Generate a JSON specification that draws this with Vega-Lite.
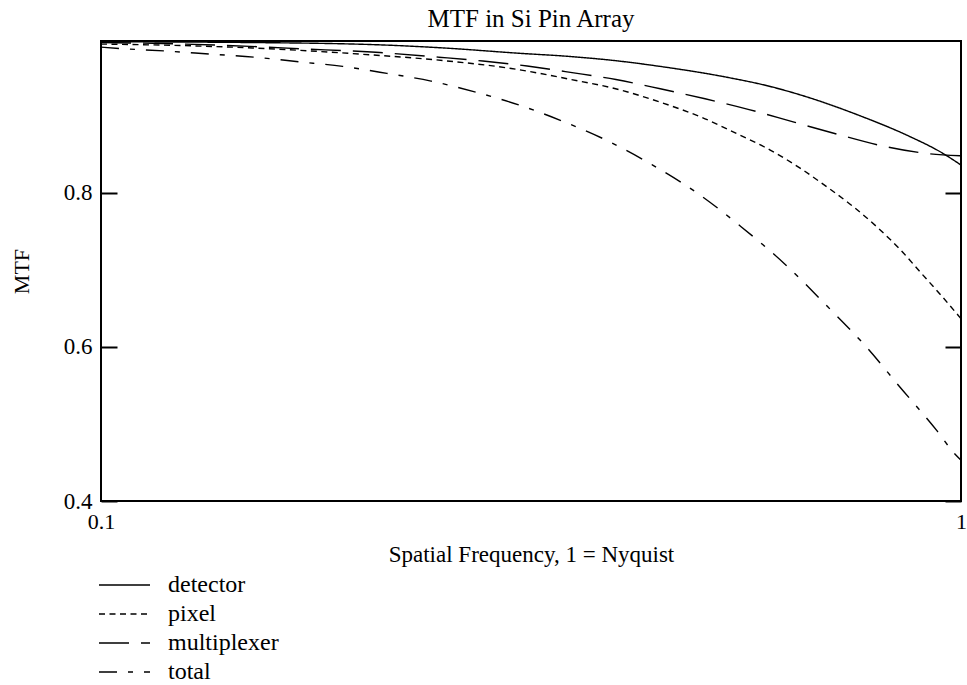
{
  "$schema": "https://vega.github.io/schema/vega-lite/v6.json",
  "width": 860,
  "height": 460,
  "autosize": "none",
  "padding": {"left": 101, "top": 41, "right": 6, "bottom": 184},
  "background": "white",
  "title": {"text": "MTF in Si Pin Array", "font": "Liberation Serif", "fontSize": 25, "fontWeight": "normal", "color": "black", "offset": 7, "anchor": "middle"},
  "config": {
    "view": {"stroke": "black", "strokeWidth": 2},
    "font": "Liberation Serif",
    "axis": {"labelFont": "Liberation Serif", "titleFont": "Liberation Serif"},
    "legend": {
      "title": null,
      "orient": "none",
      "legendX": -9,
      "legendY": 532,
      "symbolType": "M-1,0H9.2",
      "symbolSize": 100,
      "symbolStrokeColor": "black",
      "symbolFillColor": "transparent",
      "symbolStrokeWidth": 1.4,
      "labelFont": "Liberation Serif",
      "labelFontSize": 24,
      "labelColor": "black",
      "labelOffset": 52,
      "rowPadding": 5,
      "padding": 0,
      "direction": "vertical"
    }
  },
  "data": {"values": [
    {"s": "detector", "x": 0.1, "v": 0.996},
    {"s": "detector", "x": 0.15, "v": 0.995},
    {"s": "detector", "x": 0.211, "v": 0.992},
    {"s": "detector", "x": 0.25, "v": 0.988},
    {"s": "detector", "x": 0.307, "v": 0.981},
    {"s": "detector", "x": 0.35, "v": 0.977},
    {"s": "detector", "x": 0.4, "v": 0.971},
    {"s": "detector", "x": 0.447, "v": 0.964},
    {"s": "detector", "x": 0.534, "v": 0.950},
    {"s": "detector", "x": 0.6, "v": 0.938},
    {"s": "detector", "x": 0.655, "v": 0.926},
    {"s": "detector", "x": 0.763, "v": 0.900},
    {"s": "detector", "x": 0.872, "v": 0.873},
    {"s": "detector", "x": 0.95, "v": 0.852},
    {"s": "detector", "x": 1.0, "v": 0.836},
    {"s": "pixel", "x": 0.1, "v": 0.993},
    {"s": "pixel", "x": 0.125, "v": 0.991},
    {"s": "pixel", "x": 0.15, "v": 0.988},
    {"s": "pixel", "x": 0.2, "v": 0.980},
    {"s": "pixel", "x": 0.25, "v": 0.9716},
    {"s": "pixel", "x": 0.3, "v": 0.9613},
    {"s": "pixel", "x": 0.35, "v": 0.9476},
    {"s": "pixel", "x": 0.4, "v": 0.934},
    {"s": "pixel", "x": 0.45, "v": 0.9165},
    {"s": "pixel", "x": 0.5, "v": 0.8977},
    {"s": "pixel", "x": 0.55, "v": 0.8762},
    {"s": "pixel", "x": 0.6, "v": 0.8555},
    {"s": "pixel", "x": 0.65, "v": 0.832},
    {"s": "pixel", "x": 0.7, "v": 0.8068},
    {"s": "pixel", "x": 0.75, "v": 0.7817},
    {"s": "pixel", "x": 0.8, "v": 0.7548},
    {"s": "pixel", "x": 0.85, "v": 0.7262},
    {"s": "pixel", "x": 0.9, "v": 0.6951},
    {"s": "pixel", "x": 0.95, "v": 0.6658},
    {"s": "pixel", "x": 1.0, "v": 0.6366},
    {"s": "multiplexer", "x": 0.1, "v": 0.995},
    {"s": "multiplexer", "x": 0.125, "v": 0.993},
    {"s": "multiplexer", "x": 0.149, "v": 0.990},
    {"s": "multiplexer", "x": 0.17, "v": 0.987},
    {"s": "multiplexer", "x": 0.211, "v": 0.982},
    {"s": "multiplexer", "x": 0.247, "v": 0.976},
    {"s": "multiplexer", "x": 0.278, "v": 0.971},
    {"s": "multiplexer", "x": 0.313, "v": 0.9645},
    {"s": "multiplexer", "x": 0.353, "v": 0.956},
    {"s": "multiplexer", "x": 0.397, "v": 0.947},
    {"s": "multiplexer", "x": 0.447, "v": 0.935},
    {"s": "multiplexer", "x": 0.504, "v": 0.922},
    {"s": "multiplexer", "x": 0.567, "v": 0.908},
    {"s": "multiplexer", "x": 0.638, "v": 0.892},
    {"s": "multiplexer", "x": 0.718, "v": 0.876},
    {"s": "multiplexer", "x": 0.809, "v": 0.861},
    {"s": "multiplexer", "x": 0.913, "v": 0.851},
    {"s": "multiplexer", "x": 1.0, "v": 0.848},
    {"s": "total", "x": 0.1, "v": 0.989},
    {"s": "total", "x": 0.106, "v": 0.987},
    {"s": "total", "x": 0.119, "v": 0.984},
    {"s": "total", "x": 0.134, "v": 0.980},
    {"s": "total", "x": 0.151, "v": 0.976},
    {"s": "total", "x": 0.17, "v": 0.970},
    {"s": "total", "x": 0.191, "v": 0.964},
    {"s": "total", "x": 0.215, "v": 0.955},
    {"s": "total", "x": 0.242, "v": 0.945},
    {"s": "total", "x": 0.272, "v": 0.931},
    {"s": "total", "x": 0.306, "v": 0.914},
    {"s": "total", "x": 0.344, "v": 0.893},
    {"s": "total", "x": 0.389, "v": 0.867},
    {"s": "total", "x": 0.438, "v": 0.836},
    {"s": "total", "x": 0.493, "v": 0.800},
    {"s": "total", "x": 0.555, "v": 0.756},
    {"s": "total", "x": 0.626, "v": 0.706},
    {"s": "total", "x": 0.7, "v": 0.652},
    {"s": "total", "x": 0.776, "v": 0.600},
    {"s": "total", "x": 0.849, "v": 0.548},
    {"s": "total", "x": 0.938, "v": 0.491},
    {"s": "total", "x": 0.982, "v": 0.462},
    {"s": "total", "x": 1.0, "v": 0.453}
  ]},
  "encoding": {
    "x": {
      "field": "x", "type": "quantitative",
      "scale": {"type": "log", "domain": [0.1, 1], "nice": false},
      "axis": {
        "values": [0.1, 1],
        "labelExpr": "datum.value >= 1 ? '1' : '0.1'",
        "ticks": false, "domain": false, "grid": false,
        "labelPadding": 10, "labelFontSize": 22, "labelFont": "Liberation Serif", "labelColor": "black", "labelFlush": false,
        "title": "Spatial Frequency, 1 = Nyquist",
        "titleFont": "Liberation Serif", "titleFontSize": 23, "titleFontWeight": "normal", "titleColor": "black", "titlePadding": 11
      }
    }
  },
  "layer": [
    {
      "mark": {"type": "line", "strokeWidth": 1.4, "color": "black", "interpolate": "monotone"},
      "encoding": {
        "y": {
          "field": "v", "type": "quantitative",
          "scale": {"domain": [0.4, 0.997], "nice": false, "zero": false},
          "axis": {
            "orient": "left", "values": [0.4, 0.6, 0.8], "format": ".1f",
            "tickSize": -16, "tickWidth": 2, "tickColor": "black",
            "domain": false, "grid": false,
            "labelPadding": 25, "labelFontSize": 23, "labelFont": "Liberation Serif", "labelColor": "black",
            "title": "MTF", "titleFont": "Liberation Serif", "titleFontSize": 22, "titleFontWeight": "normal", "titleColor": "black", "titlePadding": 30
          }
        },
        "strokeDash": {
          "field": "s", "type": "nominal",
          "scale": {"domain": ["detector", "pixel", "multiplexer", "total"], "range": [[1, 0], [6, 4.5], [30, 12], [18, 11, 5, 11]]}
        }
      }
    },
    {
      "mark": {"type": "line", "strokeOpacity": 0},
      "encoding": {
        "y": {
          "field": "v", "type": "quantitative",
          "axis": {
            "orient": "right", "values": [0.4, 0.6, 0.8], "labels": false,
            "tickSize": -16, "tickWidth": 2, "tickColor": "black",
            "domain": false, "grid": false, "title": null
          }
        },
        "detail": {"field": "s", "type": "nominal"}
      }
    }
  ],
  "resolve": {"axis": {"y": "independent"}}
}
